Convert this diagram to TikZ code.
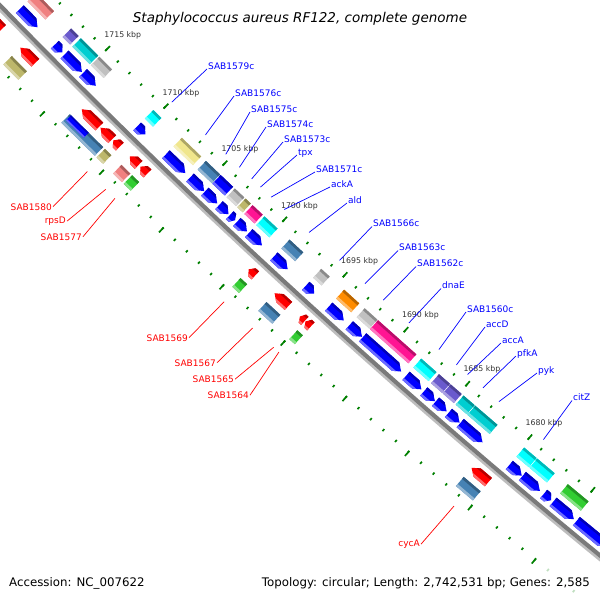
\documentclass[tikz,border=0pt]{standalone}
\usepackage{fontspec}
\setmainfont{DejaVu Sans}

\definecolor{revblue}{HTML}{0000FF}
\definecolor{fwdred}{HTML}{FF0000}
\definecolor{cogcoral}{HTML}{F08080}
\definecolor{cogslate}{HTML}{6A5ACD}
\definecolor{cogturq}{HTML}{00CED1}
\definecolor{cogsilver}{HTML}{C0C0C0}
\definecolor{cogaqua}{HTML}{00FFFF}
\definecolor{cogkhaki}{HTML}{F0E68C}
\definecolor{cogdkhaki}{HTML}{BDB76B}
\definecolor{cogsteel}{HTML}{4682B4}
\definecolor{cogblue}{HTML}{0000FF}
\definecolor{cogpink}{HTML}{FF1493}
\definecolor{cogorange}{HTML}{FF8C00}
\definecolor{coglime}{HTML}{32CD32}
\definecolor{tickgreen}{HTML}{008000}
\definecolor{bbdark}{HTML}{7A7A7A}
\definecolor{bblight}{HTML}{BDBDBD}
\definecolor{kbpgray}{HTML}{333333}

% k = position (kbp), d = distance from the backbone (px, + outwards)
\pgfkeys{/gcs/.cd,k/.store in=\gk,d/.store in=\gd,k=1700,d=0}
\tikzdeclarecoordinatesystem{g}{%
  \pgfkeys{/gcs/.cd,#1}%
  \pgfmathsetmacro\gs{(\gk-1697)*16.362}%
  \pgfmathsetmacro\gq{\gs*(1+(\gd)/7140)}%
  \pgfmathsetmacro\gn{\gd-(\gs/100)*(\gs/100)*0.70028}%
  \pgfmathsetmacro\gx{289.8-0.67613*(\gn)-0.73678*(\gq)}%
  \pgfmathsetmacro\gy{287.5+0.73678*(\gn)-0.67613*(\gq)}%
  \pgfpoint{\gx pt}{-\gy pt}}

\def\nocol{none}
\newcommand\bands[5]{%
  \pgfmathsetmacro\bda{#3+0.22*(#4-(#3))}%
  \pgfmathsetmacro\bdb{#4-0.22*(#4-(#3))}%
  \pgfmathsetmacro\bdc{#3-1}\pgfmathsetmacro\bdd{#4+1}%
  \pgfmathsetmacro\bka{#1+0.3}\pgfmathsetmacro\bkb{#2-0.3}%
  \fill[fill=#5] (g cs:k=\bka,d=\bdc) -- (g cs:k=\bkb,d=\bdc) -- (g cs:k=\bkb,d=\bdd) -- (g cs:k=\bka,d=\bdd) -- cycle;
  \fill[fill=#5!72!black] (g cs:k=\bka,d=\bdc) -- (g cs:k=\bkb,d=\bdc) -- (g cs:k=\bkb,d=\bda) -- (g cs:k=\bka,d=\bda) -- cycle;
  \fill[fill=#5!58!white] (g cs:k=\bka,d=\bdb) -- (g cs:k=\bkb,d=\bdb) -- (g cs:k=\bkb,d=\bdd) -- (g cs:k=\bka,d=\bdd) -- cycle;}
\newcommand\cogbox[5]{%
  \begin{scope}
    \clip (g cs:k=#1,d=#3) -- (g cs:k=#2,d=#3) -- (g cs:k=#2,d=#4) -- (g cs:k=#1,d=#4) -- cycle;
    \bands{#1}{#2}{#3}{#4}{#5}
  \end{scope}}
\newcommand\revgene[3]{%
  \pgfmathsetmacro\gh{min(0.45,(#1-#2)/2)}%
  \pgfmathsetmacro\gt{#2+\gh}%
  \begin{scope}
    \clip (g cs:k=#1,d=-17.5) -- (g cs:k=\gt,d=-17.5) -- (g cs:k=#2,d=-12) -- (g cs:k=\gt,d=-6.5) -- (g cs:k=#1,d=-6.5) -- cycle;
    \bands{#1}{#2}{-17.5}{-6.5}{revblue}
  \end{scope}
  \edef\tmpc{#3}\ifx\tmpc\nocol\else\cogbox{#1}{#2}{-35}{-23}{#3}\fi}
\newcommand\fwdgene[3]{%
  \pgfmathsetmacro\gh{min(0.45,(#1-#2)/2)}%
  \pgfmathsetmacro\gt{#1-\gh}%
  \begin{scope}
    \clip (g cs:k=#2,d=9) -- (g cs:k=\gt,d=9) -- (g cs:k=#1,d=14.5) -- (g cs:k=\gt,d=20) -- (g cs:k=#2,d=20) -- cycle;
    \bands{#1}{#2}{9}{20}{fwdred}
  \end{scope}
  \edef\tmpc{#3}\ifx\tmpc\nocol\else\cogbox{#1}{#2}{26.5}{38.5}{#3}\fi}

\begin{document}
\begin{tikzpicture}[x=1pt,y=-1pt,
  ruletick/.style={draw=tickgreen,line width=1.7pt},
  kbp/.style={text=kbpgray,font=\fontsize{7.8}{9}\selectfont,inner sep=0pt},
  blab/.style={text=revblue,font=\fontsize{9}{11}\selectfont,inner sep=1pt,anchor=base west},
  rlab/.style={text=fwdred,font=\fontsize{9}{11}\selectfont,inner sep=1pt,anchor=base east},
  bline/.style={draw=revblue,line width=0.7pt},
  rline/.style={draw=fwdred,line width=0.7pt},
  leg/.style={font=\fontsize{11.8}{14}\selectfont,inner sep=0pt},
  ttl/.style={font=\fontsize{13.5}{16}\selectfont\itshape,inner sep=0pt,anchor=base}]
\useasboundingbox (0,0) rectangle (600,600);
\clip (0,0) rectangle (600,600);
\fill[white] (0,0) rectangle (600,600);

\foreach \k in {1667,...,1724}{%
  \pgfmathsetmacro\kk{\k+0.025+0.00875*(\k-1695)}
  \draw[ruletick] (g cs:k=\kk,d=-46) -- (g cs:k=\kk,d=-43.3);
  \draw[ruletick] (g cs:k=\kk,d=42.3) -- (g cs:k=\kk,d=45);}
\foreach \k in {1670,1675,...,1720}{%
  \pgfmathsetmacro\kk{\k+0.025+0.00875*(\k-1695)}
  \draw[ruletick] (g cs:k=\kk,d=-50) -- (g cs:k=\kk,d=-43.3);
  \draw[ruletick] (g cs:k=\kk,d=42.3) -- (g cs:k=\kk,d=49);}

\draw[bblight,line width=2.6pt] plot[domain=1666:1725,samples=25] (g cs:k=\x,d=2.9);
\draw[bbdark,line width=4.2pt] plot[domain=1666:1725,samples=25] (g cs:k=\x,d=-0.5);

\foreach \a/\b/\c in {1720.7/1719.15/cogcoral,1717.65/1717.0/cogslate,1716.8/1715.3/cogturq,
  1715.2/1714.1/cogsilver,1710.55/1709.85/cogaqua,1708.1/1706.45/cogkhaki,1706.05/1704.85/cogsteel,
  1704.8/1703.75/cogblue,1703.6/1702.8/cogsilver,1702.7/1702.25/cogdkhaki,1702.1/1701.25/cogpink,
  1701.1/1700.0/cogaqua,1699.0/1697.85/cogsteel,1696.35/1695.65/cogsilver,1694.45/1693.2/cogorange,
  1692.75/1691.7/cogsilver,1691.65/1688.5/cogpink,1688.1/1686.85/cogaqua,1686.65/1685.75/cogslate,
  1685.7/1684.8/cogslate,1684.65/1683.75/cogturq,1683.7/1681.9/cogturq,1679.75/1678.75/cogaqua,
  1678.7/1677.3/cogaqua,1677.0/1676.4/none,1676.25/1674.6/coglime,1674.4/1672.0/none}
  {\revgene{\a}{\b}{\c}}

\cogbox{1714.0}{1711.15}{26.5}{38.5}{cogsteel}
\cogbox{1713.9}{1712.4}{26.5}{33.5}{cogblue}
\foreach \a/\b/\c in {1722.5/1720.6/none,1719.0/1717.7/cogdkhaki,1713.7/1712.2/none,
  1712.1/1711.1/none,1711.0/1710.45/cogdkhaki,1709.6/1708.85/cogcoral,1708.7/1708.1/coglime,
  1699.6/1699.05/coglime,1697.45/1696.3/cogsteel,1695.35/1694.95/none,1694.9/1694.45/coglime,
  1681.4/1680.05/cogsteel}
  {\fwdgene{\a}{\b}{\c}}

\foreach \k in {1680,1685,...,1715}{%
  \pgfmathsetmacro\kk{\k+0.025+0.00875*(\k-1695)-0.1}
  \node[kbp] (kb\k) at (g cs:k=\kk,d=-66.5) {\k\ kbp};}

\foreach \nm/\txt/\x/\y/\k in {l1579/SAB1579c/207/69/1710.07,l1576/SAB1576c/234/96/1707.18,
  l1575/SAB1575c/250/112/1705.45,l1574/SAB1574c/266/127/1704.29,l1573/SAB1573c/283/142/1703.25,
  ltpx/tpx/297/155/1702.51,l1571/SAB1571c/315/172/1701.61,lackA/ackA/330/187/1700.5,
  lald/ald/347/203/1698.42,l1566/SAB1566c/372/226.5/1695.87,l1563/SAB1563c/398/250.5/1693.75,
  l1562/SAB1562c/416/266.5/1692.23,ldnaE/dnaE/441/288.5/1690.12,l1560/SAB1560c/466/312/1687.65,
  laccD/accD/485/327/1686.22,laccA/accA/501/343/1685.31,lpfkA/pfkA/516/356/1684.06,
  lpyk/pyk/537/373/1682.76,lcitZ/citZ/572/400.5/1679.16}{%
  \node[blab] (\nm) at (\x,\y) {\txt};
  \coordinate (e\nm) at (g cs:k=\k,d=-53.5);
  \draw[bline] (\nm.base west) -- (e\nm);}

\foreach \nm/\txt/\x/\y/\k in {l1580/SAB1580/53/210/1710.8,lrpsD/rpsD/67/223.5/1709.25,
  l1577/SAB1577/83/240/1708.47,l1569/SAB1569/189/341/1699.35,l1567/SAB1567/217/366/1697.0,
  l1565/SAB1565/235/382.5/1695.27,l1564/SAB1564/250/398.5/1694.84,lcycA/cycA/421/546.5/1680.7}{%
  \node[rlab] (\nm) at (\x,\y) {\txt};
  \coordinate (e\nm) at (g cs:k=\k,d=55);
  \draw[rline] (\nm.east) -- (e\nm);}

\fill[white,opacity=0.75] (0,566) rectangle (600,600);
\node[ttl] (title) at (300,22.5) {Staphylococcus aureus RF122, complete genome};
\node[leg,anchor=base west] (acc) at (9,586) {Accession: NC\_007622};
\node[leg,anchor=base east] (topo) at (590,586) {Topology: circular; Length: 2,742,531 bp; Genes: 2,585};
\end{tikzpicture}
\end{document}
